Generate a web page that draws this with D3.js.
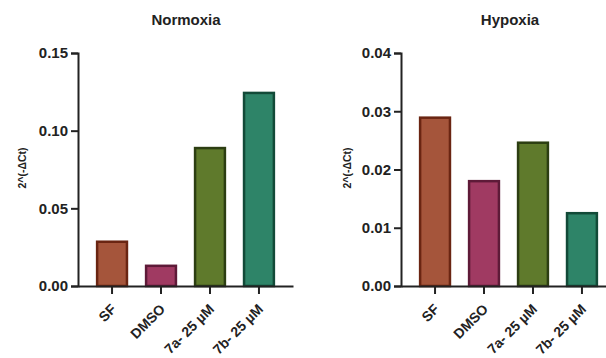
<!DOCTYPE html>
<html>
<head>
<meta charset="utf-8">
<script src="https://cdn.jsdelivr.net/npm/d3@7"></script>
<style>
  body { margin: 0; background: #fff; }
  text { font-family: "Liberation Sans", Arial, sans-serif; font-weight: bold; fill: #222; }
</style>
</head>
<body>
<div id="chart"></div>
<script>
// data
const categories = ['SF', 'DMSO', '7a- 25 \u00b5M', '7b- 25 \u00b5M'];
const normoxia = [0.0285, 0.013, 0.0888, 0.1243];
const hypoxia = [0.0289, 0.018, 0.0246, 0.0125];
const normoxiaTicks = [0.00, 0.05, 0.10, 0.15];
const hypoxiaTicks = [0.00, 0.01, 0.02, 0.03, 0.04];

const fills = ['#a5553b', '#a03a62', '#5f7a2c', '#2e8468'];
const strokes = ['#6a2512', '#5e1a38', '#2c3e12', '#124a38'];

const W = 606, H = 358;
const svg = d3.select('#chart').append('svg')
  .attr('width', W)
  .attr('height', H);

function panel(opts) {
  const g = svg.append('g');

  const x = d3.scaleBand()
    .domain(categories)
    .range([opts.left, opts.right])
    .paddingInner(0.35)
    .paddingOuter(0.37);

  const y = d3.scaleLinear()
    .domain([0, opts.max])
    .range([286, 53]);

  // bars
  g.selectAll('rect')
    .data(opts.values)
    .join('rect')
    .attr('x', (d, i) => x(categories[i]) + 1)
    .attr('y', d => y(d))
    .attr('width', x.bandwidth() - 2)
    .attr('height', d => y(0) - y(d))
    .attr('fill', (d, i) => fills[i])
    .attr('stroke', (d, i) => strokes[i])
    .attr('stroke-width', 2.5);

  // y axis
  const yAxis = d3.axisLeft(y)
    .tickValues(opts.ticks)
    .tickFormat(d3.format('.2f'))
    .tickSize(7)
    .tickPadding(3);
  const ga = g.append('g')
    .attr('transform', `translate(${opts.left},0)`)
    .call(yAxis);
  ga.select('.domain').attr('stroke', '#222').attr('stroke-width', 2);
  ga.selectAll('.tick line').attr('stroke', '#222').attr('stroke-width', 2);
  ga.selectAll('.tick text').style('font-size', '15px').attr('fill', '#222');

  // x axis
  const xAxis = d3.axisBottom(x).tickSize(8).tickSizeOuter(0);
  const gx = g.append('g')
    .attr('transform', `translate(0,${y(0)})`)
    .call(xAxis);
  gx.select('.domain').attr('stroke', '#222').attr('stroke-width', 2);
  gx.selectAll('.tick line').attr('stroke', '#222').attr('stroke-width', 2);
  gx.selectAll('.tick text')
    .style('font-size', '14px')
    .attr('fill', '#222')
    .attr('text-anchor', 'end')
    .attr('dy', null)
    .attr('y', 0)
    .attr('transform', 'translate(5,24) rotate(-45)');

  // title
  g.append('text')
    .attr('x', opts.titleX)
    .attr('y', 25)
    .attr('text-anchor', 'middle')
    .style('font-size', '15px')
    .text(opts.title);

  // y label
  g.append('text')
    .attr('transform', `translate(${opts.labelX},168) rotate(-90)`)
    .attr('text-anchor', 'middle')
    .style('font-size', '10.5px')
    .text('2^(-\u0394Ct)');
}

panel({ title: 'Normoxia', values: normoxia, ticks: normoxiaTicks, max: 0.15,
  left: 78, right: 293, titleX: 186, labelX: 26 });
panel({ title: 'Hypoxia', values: hypoxia, ticks: hypoxiaTicks, max: 0.04,
  left: 401, right: 616, titleX: 510, labelX: 351 });
</script>
</body>
</html>
